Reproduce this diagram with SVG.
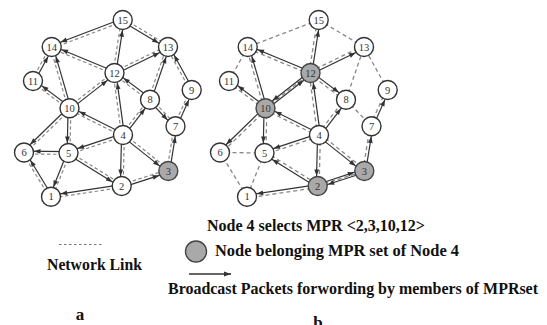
<svg xmlns="http://www.w3.org/2000/svg" width="547" height="325" viewBox="0 0 547 325">
<defs>
<marker id="ah" markerUnits="userSpaceOnUse" markerWidth="12" markerHeight="8" refX="10" refY="0" orient="auto" overflow="visible"><path d="M0,0 L-6.5,-2.4 L-6.5,2.4 Z" fill="#333"/></marker>
<marker id="ah0" markerUnits="userSpaceOnUse" markerWidth="12" markerHeight="8" refX="0" refY="0" orient="auto" overflow="visible"><path d="M0,0 L-7,-2.6 L-7,2.6 Z" fill="#333"/></marker>
<style>
.s{stroke:#333;stroke-width:1.2;fill:none;marker-end:url(#ah)}
.d{stroke:#888;stroke-width:1.2;stroke-dasharray:3.5 2.5;fill:none}
.d2{stroke:#888;stroke-width:1.3;stroke-dasharray:4 3;fill:none}
.n circle{fill:#fff;stroke:#333;stroke-width:1.4}
.m circle{fill:#a9a9a9;stroke:#444;stroke-width:1.4}
.n text{font-family:"Liberation Serif",serif;font-size:10.5px;text-anchor:middle;fill:#333}
.lg{font-family:"Liberation Serif",serif;font-weight:bold;font-size:17px;fill:#111}
</style>
</defs>

<g id="graph-a">
<g id="connectors-a">
<line class="d" x1="123.2" y1="21.31" x2="52.2" y2="48.31"/>
<line class="d" x1="123.42" y1="18.8" x2="168.72" y2="45.8"/>
<line class="d" x1="113.12" y1="72.79" x2="121.32" y2="19.79"/>
<line class="d" x1="113.96" y1="74.29" x2="51.16" y2="48.29"/>
<line class="d" x1="31.77" y1="80.33" x2="50.47" y2="46.33"/>
<line class="d" x1="68.15" y1="108.69" x2="50.35" y2="47.39"/>
<line class="d" x1="113.89" y1="71.74" x2="167.39" y2="45.74"/>
<line class="d" x1="148.68" y1="99.25" x2="166.68" y2="46.55"/>
<line class="d" x1="190.47" y1="90.68" x2="166.77" y2="47.68"/>
<line class="d" x1="68.64" y1="107.2" x2="113.64" y2="71.9"/>
<line class="d" x1="149.16" y1="100.82" x2="113.66" y2="74.12"/>
<line class="d" x1="121.61" y1="135.19" x2="113.11" y2="73.19"/>
<line class="d" x1="68.66" y1="109.42" x2="32.16" y2="82.12"/>
<line class="d" x1="70.48" y1="109.3" x2="24.98" y2="153.5"/>
<line class="d" x1="70.9" y1="108.33" x2="69.9" y2="153.03"/>
<line class="d" x1="122.37" y1="136.25" x2="68.87" y2="109.55"/>
<line class="d" x1="174.22" y1="125.73" x2="190.42" y2="89.43"/>
<line class="d" x1="151.01" y1="98.73" x2="176.51" y2="125.33"/>
<line class="d" x1="121.89" y1="134.15" x2="148.89" y2="98.85"/>
<line class="d" x1="123.44" y1="136.33" x2="68.94" y2="154.33"/>
<line class="d" x1="123.87" y1="133.9" x2="169.17" y2="169.9"/>
<line class="d" x1="124.4" y1="135.04" x2="123.1" y2="186.04"/>
<line class="d" x1="166.92" y1="170.78" x2="174.12" y2="126.08"/>
<line class="d" x1="68.48" y1="154.4" x2="23.98" y2="153.9"/>
<line class="d" x1="49.81" y1="197.43" x2="22.81" y2="153.23"/>
<line class="d" x1="69.8" y1="153.52" x2="52.3" y2="197.22"/>
<line class="d" x1="69.24" y1="151.81" x2="122.44" y2="184.81"/>
<line class="d" x1="121.27" y1="184.67" x2="167.87" y2="169.67"/>
<line class="d" x1="121.91" y1="187.38" x2="51.21" y2="198.08"/>

<line class="s" x1="122.2" y1="18.7" x2="51.2" y2="45.7"/>
<line class="s" x1="121.98" y1="21.2" x2="167.28" y2="48.2"/>
<line class="s" x1="115.88" y1="73.21" x2="124.08" y2="20.21"/>
<line class="s" x1="115.04" y1="71.71" x2="52.24" y2="45.71"/>
<line class="s" x1="34.23" y1="81.67" x2="52.93" y2="47.67"/>
<line class="s" x1="70.85" y1="107.91" x2="53.05" y2="46.61"/>
<line class="s" x1="115.11" y1="74.26" x2="168.61" y2="48.26"/>
<line class="s" x1="151.32" y1="100.15" x2="169.32" y2="47.45"/>
<line class="s" x1="192.93" y1="89.32" x2="169.23" y2="46.32"/>
<line class="s" x1="70.36" y1="109.4" x2="115.36" y2="74.1"/>
<line class="s" x1="150.84" y1="98.58" x2="115.34" y2="71.88"/>
<line class="s" x1="124.39" y1="134.81" x2="115.89" y2="72.81"/>
<line class="s" x1="70.34" y1="107.18" x2="33.84" y2="79.88"/>
<line class="s" x1="68.52" y1="107.3" x2="23.02" y2="151.5"/>
<line class="s" x1="68.1" y1="108.27" x2="67.1" y2="152.97"/>
<line class="s" x1="123.63" y1="133.75" x2="70.13" y2="107.05"/>
<line class="s" x1="176.78" y1="126.87" x2="192.98" y2="90.57"/>
<line class="s" x1="148.99" y1="100.67" x2="174.49" y2="127.27"/>
<line class="s" x1="124.11" y1="135.85" x2="151.11" y2="100.55"/>
<line class="s" x1="122.56" y1="133.67" x2="68.06" y2="151.67"/>
<line class="s" x1="122.13" y1="136.1" x2="167.43" y2="172.1"/>
<line class="s" x1="121.6" y1="134.96" x2="120.3" y2="185.96"/>
<line class="s" x1="169.68" y1="171.22" x2="176.88" y2="126.52"/>
<line class="s" x1="68.52" y1="151.6" x2="24.02" y2="151.1"/>
<line class="s" x1="52.19" y1="195.97" x2="25.19" y2="151.77"/>
<line class="s" x1="67.2" y1="152.48" x2="49.7" y2="196.18"/>
<line class="s" x1="67.76" y1="154.19" x2="120.96" y2="187.19"/>
<line class="s" x1="122.13" y1="187.33" x2="168.73" y2="172.33"/>
<line class="s" x1="121.49" y1="184.62" x2="50.79" y2="195.32"/>
</g>
<g id="a-n15" class="n"><circle cx="122.7" cy="20" r="9.5"/><text x="122.7" y="23.6">15</text></g>
<g id="a-n14" class="n"><circle cx="51.7" cy="47" r="9.5"/><text x="51.7" y="50.6">14</text></g>
<g id="a-n13" class="n"><circle cx="168" cy="47" r="9.5"/><text x="168" y="50.6">13</text></g>
<g id="a-n12" class="n"><circle cx="114.5" cy="73" r="9.5"/><text x="114.5" y="76.6">12</text></g>
<g id="a-n11" class="n"><circle cx="33" cy="81" r="9.5"/><text x="33" y="84.6">11</text></g>
<g id="a-n9" class="n"><circle cx="191.7" cy="90" r="9.5"/><text x="191.7" y="93.6">9</text></g>
<g id="a-n8" class="n"><circle cx="150" cy="99.7" r="9.5"/><text x="150" y="103.3">8</text></g>
<g id="a-n10" class="n"><circle cx="69.5" cy="108.3" r="9.5"/><text x="69.5" y="111.9">10</text></g>
<g id="a-n7" class="n"><circle cx="175.5" cy="126.3" r="9.5"/><text x="175.5" y="129.9">7</text></g>
<g id="a-n4" class="n"><circle cx="123" cy="135" r="9.5"/><text x="123" y="138.6">4</text></g>
<g id="a-n6" class="n"><circle cx="24" cy="152.5" r="9.5"/><text x="24" y="156.1">6</text></g>
<g id="a-n5" class="n"><circle cx="68.5" cy="153" r="9.5"/><text x="68.5" y="156.6">5</text></g>
<g id="a-n3" class="n m"><circle cx="168.3" cy="171" r="9.5"/><text x="168.3" y="174.6">3</text></g>
<g id="a-n2" class="n"><circle cx="121.7" cy="186" r="9.5"/><text x="121.7" y="189.6">2</text></g>
<g id="a-n1" class="n"><circle cx="51" cy="196.7" r="9.5"/><text x="51" y="200.3">1</text></g>
</g>

<g id="graph-b" transform="translate(196,0)">
<g id="connectors-b">
<line class="d2" x1="122.7" y1="20" x2="51.7" y2="47"/>
<line class="d2" x1="122.7" y1="20" x2="168" y2="47"/>
<line class="d2" x1="113.12" y1="72.79" x2="121.32" y2="19.79"/>
<line class="d2" x1="113.96" y1="74.29" x2="51.16" y2="48.29"/>
<line class="d2" x1="33" y1="81" x2="51.7" y2="47"/>
<line class="d2" x1="68.15" y1="108.69" x2="50.35" y2="47.39"/>
<line class="d2" x1="113.89" y1="71.74" x2="167.39" y2="45.74"/>
<line class="d2" x1="150" y1="99.7" x2="168" y2="47"/>
<line class="d2" x1="191.7" y1="90" x2="168" y2="47"/>
<line class="d2" x1="69.5" y1="108.3" x2="114.5" y2="73"/>
<line class="d2" x1="149.16" y1="100.82" x2="113.66" y2="74.12"/>
<line class="d2" x1="121.61" y1="135.19" x2="113.11" y2="73.19"/>
<line class="d2" x1="68.66" y1="109.42" x2="32.16" y2="82.12"/>
<line class="d2" x1="70.48" y1="109.3" x2="24.98" y2="153.5"/>
<line class="d2" x1="70.9" y1="108.33" x2="69.9" y2="153.03"/>
<line class="d2" x1="122.37" y1="136.25" x2="68.87" y2="109.55"/>
<line class="d2" x1="174.22" y1="125.73" x2="190.42" y2="89.43"/>
<line class="d2" x1="150" y1="99.7" x2="175.5" y2="126.3"/>
<line class="d2" x1="121.89" y1="134.15" x2="148.89" y2="98.85"/>
<line class="d2" x1="123.44" y1="136.33" x2="68.94" y2="154.33"/>
<line class="d2" x1="123.87" y1="133.9" x2="169.17" y2="169.9"/>
<line class="d2" x1="124.4" y1="135.04" x2="123.1" y2="186.04"/>
<line class="d2" x1="166.92" y1="170.78" x2="174.12" y2="126.08"/>
<line class="d2" x1="68.5" y1="153" x2="24" y2="152.5"/>
<line class="d2" x1="51" y1="196.7" x2="24" y2="152.5"/>
<line class="d2" x1="68.5" y1="153" x2="51" y2="196.7"/>
<line class="d2" x1="69.24" y1="151.81" x2="122.44" y2="184.81"/>
<line class="d2" x1="121.7" y1="186" x2="168.3" y2="171"/>
<line class="d2" x1="121.91" y1="187.38" x2="51.21" y2="198.08"/>

<line class="s" x1="115.88" y1="73.21" x2="124.08" y2="20.21"/>
<line class="s" x1="115.04" y1="71.71" x2="52.24" y2="45.71"/>
<line class="s" x1="70.85" y1="107.91" x2="53.05" y2="46.61"/>
<line class="s" x1="115.11" y1="74.26" x2="168.61" y2="48.26"/>
<line class="s" x1="70.48" y1="109.56" x2="115.48" y2="74.26"/>
<line class="s" x1="113.52" y1="71.74" x2="68.52" y2="107.04"/>
<line class="s" x1="115.34" y1="71.88" x2="150.84" y2="98.58"/>
<line class="s" x1="124.39" y1="134.81" x2="115.89" y2="72.81"/>
<line class="s" x1="70.34" y1="107.18" x2="33.84" y2="79.88"/>
<line class="s" x1="68.52" y1="107.3" x2="23.02" y2="151.5"/>
<line class="s" x1="68.1" y1="108.27" x2="67.1" y2="152.97"/>
<line class="s" x1="123.63" y1="133.75" x2="70.13" y2="107.05"/>
<line class="s" x1="176.78" y1="126.87" x2="192.98" y2="90.57"/>
<line class="s" x1="124.11" y1="135.85" x2="151.11" y2="100.55"/>
<line class="s" x1="122.56" y1="133.67" x2="68.06" y2="151.67"/>
<line class="s" x1="122.13" y1="136.1" x2="167.43" y2="172.1"/>
<line class="s" x1="121.6" y1="134.96" x2="120.3" y2="185.96"/>
<line class="s" x1="169.68" y1="171.22" x2="176.88" y2="126.52"/>
<line class="s" x1="120.96" y1="187.19" x2="67.76" y2="154.19"/>
<line class="s" x1="121.21" y1="184.48" x2="167.81" y2="169.18"/>
<line class="s" x1="168.79" y1="172.52" x2="122.19" y2="187.52"/>
<line class="s" x1="121.49" y1="184.62" x2="50.79" y2="195.32"/>
</g>
<g id="b-n15" class="n"><circle cx="122.7" cy="20" r="9.5"/><text x="122.7" y="23.6">15</text></g>
<g id="b-n14" class="n"><circle cx="51.7" cy="47" r="9.5"/><text x="51.7" y="50.6">14</text></g>
<g id="b-n13" class="n"><circle cx="168" cy="47" r="9.5"/><text x="168" y="50.6">13</text></g>
<g id="b-n12" class="n m"><circle cx="114.5" cy="73" r="9.5"/><text x="114.5" y="76.6">12</text></g>
<g id="b-n11" class="n"><circle cx="33" cy="81" r="9.5"/><text x="33" y="84.6">11</text></g>
<g id="b-n9" class="n"><circle cx="191.7" cy="90" r="9.5"/><text x="191.7" y="93.6">9</text></g>
<g id="b-n8" class="n"><circle cx="150" cy="99.7" r="9.5"/><text x="150" y="103.3">8</text></g>
<g id="b-n10" class="n m"><circle cx="69.5" cy="108.3" r="9.5"/><text x="69.5" y="111.9">10</text></g>
<g id="b-n7" class="n"><circle cx="175.5" cy="126.3" r="9.5"/><text x="175.5" y="129.9">7</text></g>
<g id="b-n4" class="n"><circle cx="123" cy="135" r="9.5"/><text x="123" y="138.6">4</text></g>
<g id="b-n6" class="n"><circle cx="24" cy="152.5" r="9.5"/><text x="24" y="156.1">6</text></g>
<g id="b-n5" class="n"><circle cx="68.5" cy="153" r="9.5"/><text x="68.5" y="156.6">5</text></g>
<g id="b-n3" class="n m"><circle cx="168.3" cy="171" r="9.5"/><text x="168.3" y="174.6">3</text></g>
<g id="b-n2" class="n m"><circle cx="121.7" cy="186" r="9.5"/><text x="121.7" y="189.6">2</text></g>
<g id="b-n1" class="n"><circle cx="51" cy="196.7" r="9.5"/><text x="51" y="200.3">1</text></g>
</g>

<g id="legend">
<text class="lg" x="207" y="231" textLength="218" lengthAdjust="spacingAndGlyphs">Node 4 selects MPR &lt;2,3,10,12&gt;</text>
<line x1="59" y1="244.5" x2="102" y2="244.5" stroke="#777" stroke-width="1.1" stroke-dasharray="2.5 2.5"/>
<circle cx="196" cy="251.5" r="10.5" fill="#a9a9a9" stroke="#444" stroke-width="1.4"/>
<text class="lg" x="215" y="256" textLength="244" lengthAdjust="spacingAndGlyphs">Node belonging MPR set of Node 4</text>
<text class="lg" x="47" y="270" textLength="95" lengthAdjust="spacingAndGlyphs">Network Link</text>
<line x1="189" y1="274" x2="231" y2="274" stroke="#333" stroke-width="1.6" marker-end="url(#ah0)"/>
<text class="lg" x="168" y="294" font-size="14.5" textLength="370" lengthAdjust="spacingAndGlyphs">Broadcast Packets forwording by members of MPRset</text>
<text class="lg" x="80" y="320" text-anchor="middle" font-size="14">a</text>
<text class="lg" x="318" y="328" text-anchor="middle" font-size="14">b</text>
</g>
</svg>
